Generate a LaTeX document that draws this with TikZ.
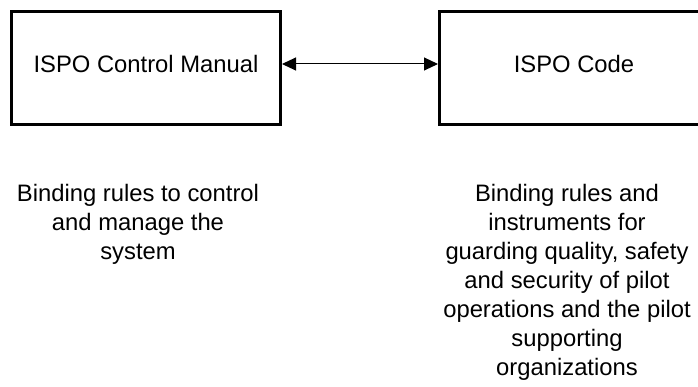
\documentclass[tikz,border=0pt]{standalone}
\usepackage{fontspec}
\setmainfont{Liberation Sans}
\usetikzlibrary{arrows.meta}
\begin{document}
\begin{tikzpicture}[x=1pt,y=1pt,
  box/.style={draw=black, line width=3pt, rectangle, minimum width=269pt, minimum height=113pt,
    inner sep=0pt, text height=17.2pt, text depth=8pt,
    font=\fontsize{23.8}{28.7}\selectfont},
  desc/.style={align=center, inner sep=0pt, font=\fontsize{23.8}{29}\selectfont},
  link/.style={line width=1pt, {Triangle[length=14pt,width=13pt]}-{Triangle[length=14pt,width=13pt]}}]
\useasboundingbox (0,0) rectangle (698,-387);
\node[box] (L) at (146,-68) {ISPO Control Manual};
\node[box] (R) at (574,-68) {ISPO Code};
\draw[link] ([yshift=4pt]L.east) -- ([yshift=4pt]R.west);
\node[desc] (Ld) at (138,-224) {Binding rules to control\\and manage the\\system};
\node[desc] (Rd) at (567,-282) {Binding rules and\\instruments for\\guarding quality, safety\\and security of pilot\\operations and the pilot\\supporting\\organizations};
\end{tikzpicture}
\end{document}
